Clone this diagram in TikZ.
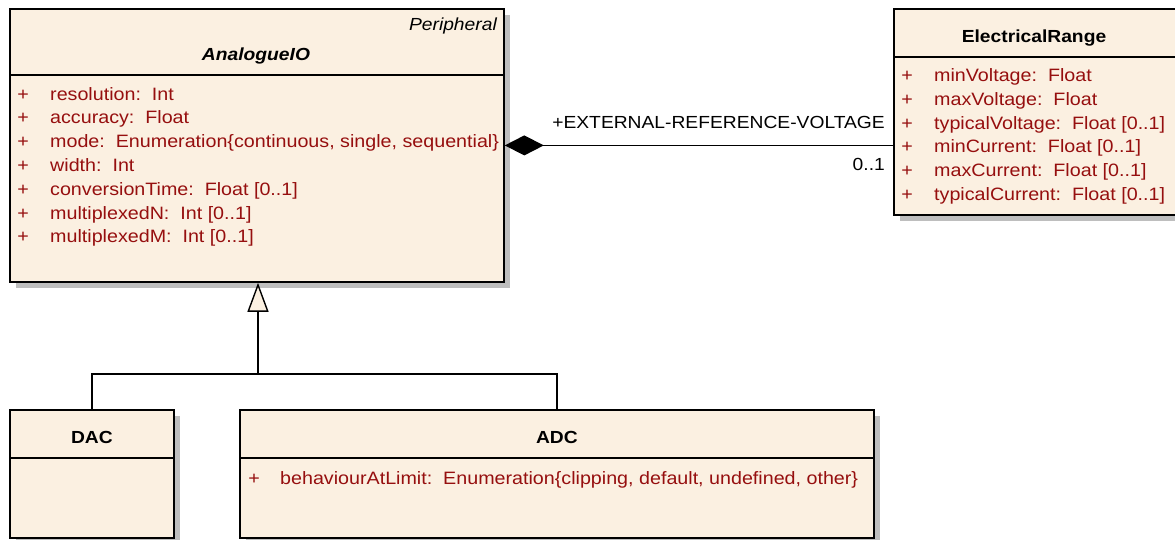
\documentclass[tikz,border=0pt]{standalone}
\usepackage{fontspec}
\setmainfont[FakeStretch=1.1]{Liberation Sans}
\usetikzlibrary{arrows.meta,shadows}

\definecolor{umlcream}{RGB}{251,240,225}
\definecolor{umlred}{RGB}{150,15,15}
\definecolor{umlshadow}{RGB}{190,190,190}
\newcommand{\umlfont}{\fontsize{17.5pt}{21pt}\selectfont}
\newcommand{\attrfont}{\fontsize{17.9pt}{21pt}\selectfont}

\tikzset{
  umlclass/.style={draw, line width=1.8pt, fill=umlcream, anchor=north west, inner sep=0pt,
    drop shadow={shadow xshift=6pt, shadow yshift=-6pt, fill=umlshadow, opacity=1}},
  clname/.style={anchor=base, font=\umlfont\bfseries, inner sep=0pt},
  attr/.style={anchor=base west, text=umlred, font=\attrfont, inner sep=0pt},
  plus/.style={anchor=base, text=umlred, font=\attrfont, inner sep=0pt},
  link/.style={line width=1.4pt},
  rolelbl/.style={anchor=base east, inner sep=0pt}
}

\begin{document}
\begin{tikzpicture}[x=1pt, y=-1pt, font=\umlfont]
  \useasboundingbox (0,0) rectangle (1175,539);

  % AnalogueIO
  \node[umlclass, minimum width=494pt, minimum height=273pt] (aio) at (9,8) {};
  \draw[line width=1.8pt] (aio.west |- 0,75) -- (aio.east |- 0,75);
  \node[anchor=base east, inner sep=0pt, font=\umlfont\itshape] (aio-st) at (497,30) {Peripheral};
  \node[clname, font=\umlfont\bfseries\itshape] (aio-nm) at (256,60) {AnalogueIO};
  \foreach \txt [count=\i] in {{resolution:\ \ Int}, {accuracy:\ \ Float},
      {mode:\ \ Enumeration\{continuous, single, sequential\}}, {width:\ \ Int},
      {conversionTime:\ \ Float [0..1]}, {multiplexedN:\ \ Int [0..1]},
      {multiplexedM:\ \ Int [0..1]}} {
    \node[plus] (aio-p\i) at (23,{100+23.8*(\i-1)}) {+};
    \node[attr] (aio-a\i) at (50,{100+23.8*(\i-1)}) {\txt};
  }

  % ElectricalRange
  \node[umlclass, minimum width=283pt, minimum height=206pt] (er) at (893,8) {};
  \draw[line width=1.8pt] (er.west |- 0,57) -- (er.east |- 0,57);
  \node[clname] (er-nm) at (1034,42) {ElectricalRange};
  \foreach \txt [count=\i] in {{minVoltage:\ \ Float}, {maxVoltage:\ \ Float},
      {typicalVoltage:\ \ Float [0..1]}, {minCurrent:\ \ Float [0..1]},
      {maxCurrent:\ \ Float [0..1]}, {typicalCurrent:\ \ Float [0..1]}} {
    \node[plus] (er-p\i) at (907,{81.5+23.8*(\i-1)}) {+};
    \node[attr] (er-a\i) at (934,{81.5+23.8*(\i-1)}) {\txt};
  }

  % DAC and ADC
  \node[umlclass, minimum width=164pt, minimum height=128pt] (dac) at (9,409) {};
  \draw[line width=1.8pt] (dac.west |- 0,458) -- (dac.east |- 0,458);
  \node[clname] (dac-nm) at (dac.north |- 0,443) {DAC};

  \node[umlclass, minimum width=634pt, minimum height=128pt] (adc) at (239,409) {};
  \draw[line width=1.8pt] (adc.west |- 0,458) -- (adc.east |- 0,458);
  \node[clname] (adc-nm) at (adc.north |- 0,443) {ADC};
  \node[plus] (adc-p1) at (254,484) {+};
  \node[attr] (adc-a1) at (280,484)
    {behaviourAtLimit:\ \ Enumeration\{clipping, default, undefined, other\}};

  % composition
  \draw[link, -{Diamond[length=39pt, width=20pt]}] (er.west |- aio.east) -- (aio.east);
  \node[rolelbl] (role) at (885,128) {+EXTERNAL-REFERENCE-VOLTAGE};
  \node[rolelbl] (mult) at (885,170) {0..1};

  % generalization
  \coordinate (gen) at (258,374);
  \draw[link] (dac.north) |- (gen) -| (adc.north);
  \draw[link, -{Triangle[length=29pt, width=21pt, fill=umlcream]}] (gen) -- (gen |- aio.south);
\end{tikzpicture}
\end{document}
